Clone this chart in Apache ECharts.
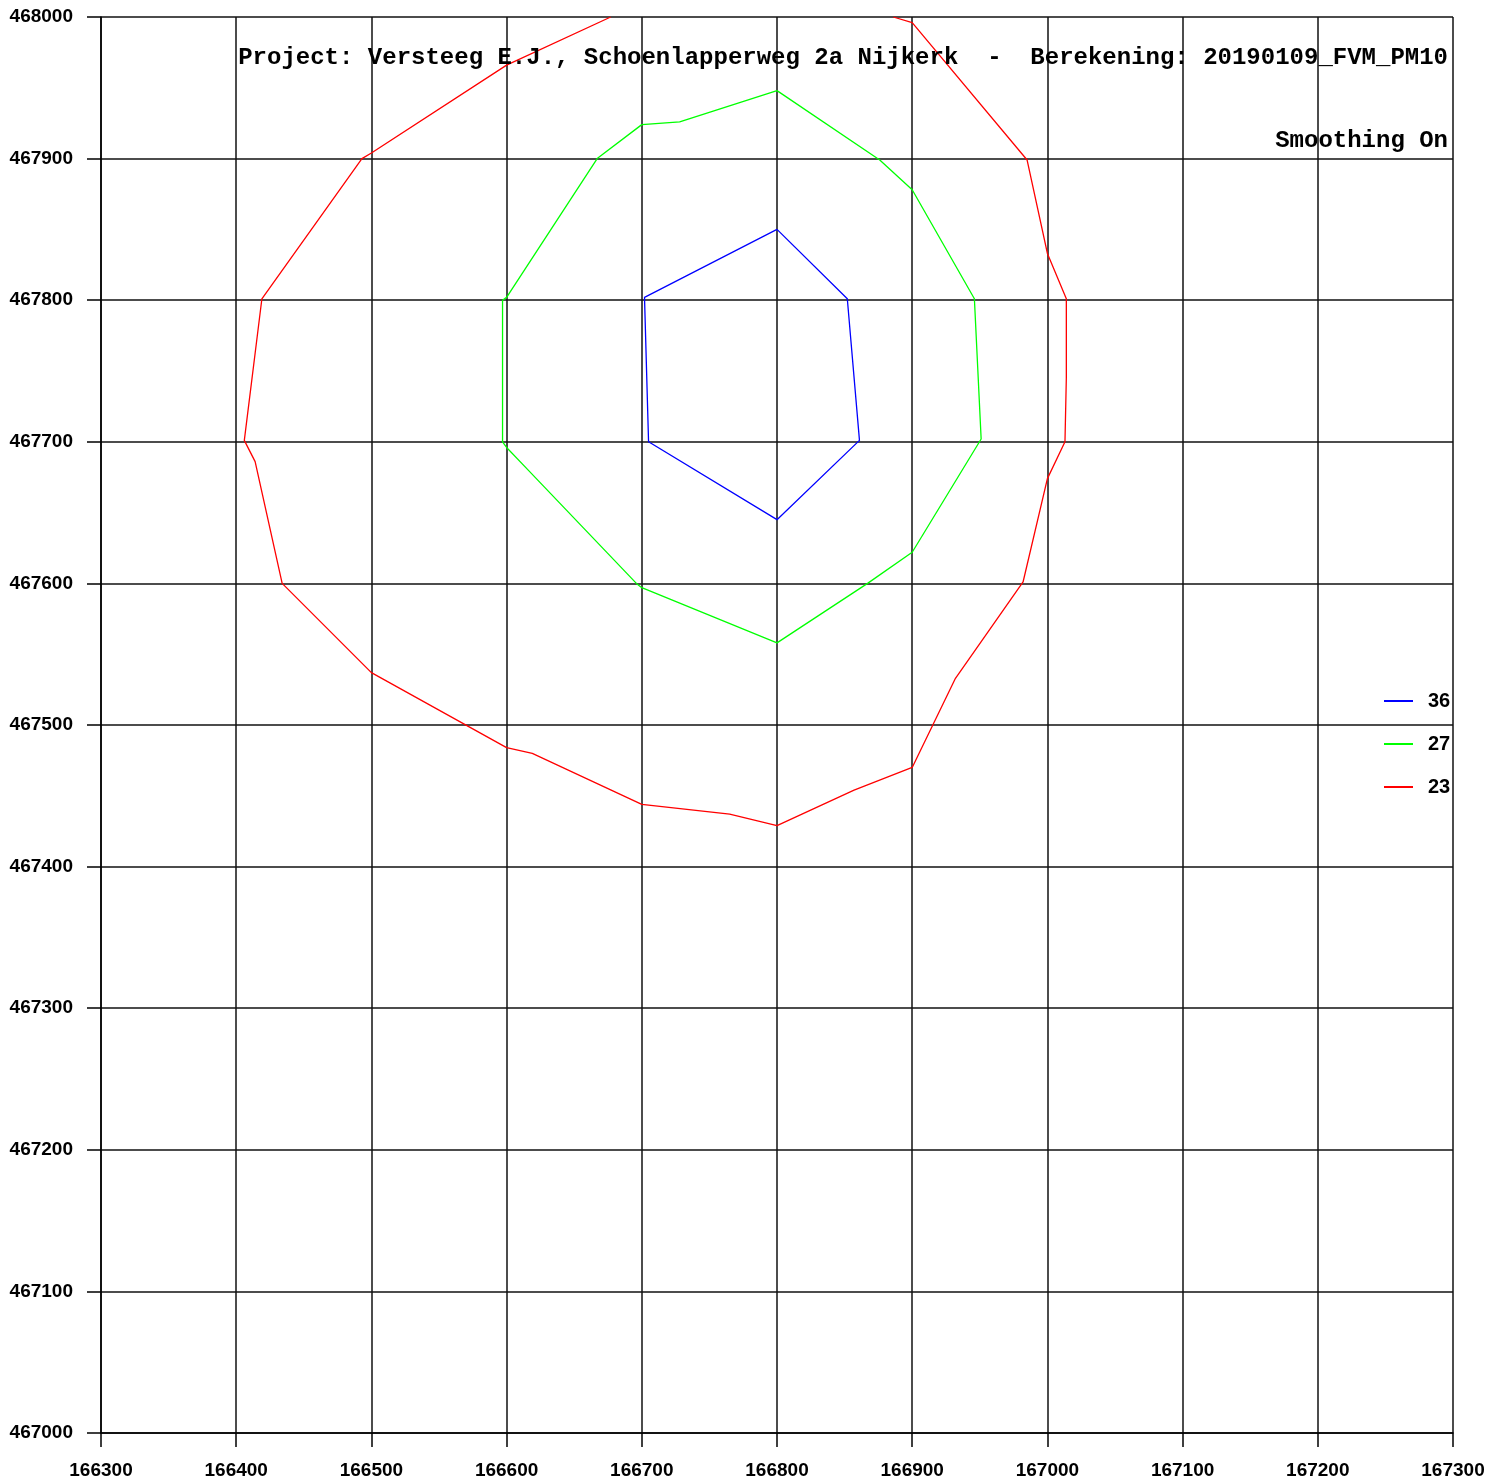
<!DOCTYPE html>
<html>
<head>
<meta charset="utf-8">
<script src="https://cdn.jsdelivr.net/npm/echarts@6/dist/echarts.min.js"></script>
<style>
html,body{margin:0;padding:0;background:#fff;}
#chart{width:1490px;height:1483px;}
</style>
</head>
<body>
<div id="chart"></div>
<script>
const titleText = 'Project: Versteeg E.J., Schoenlapperweg 2a Nijkerk  -  Berekening: 20190109_FVM_PM10';
const subText = 'Smoothing On';
const seriesNames = ['36', '27', '23'];
const seriesColors = ['#0000ff', '#00ff00', '#ff0000'];
const xMin = 166300, xMax = 167300, yMin = 467000, yMax = 468000, step = 100;

const contour36 = [
  [166800, 467850], [166852, 467801], [166861, 467701], [166800, 467645],
  [166705, 467700], [166702, 467802], [166800, 467850]
];
const contour27 = [
  [166800, 467948], [166876, 467899], [166900, 467878], [166946, 467801],
  [166951, 467702], [166900, 467622], [166867, 467600], [166800, 467558],
  [166700, 467597], [166696, 467600], [166616, 467680], [166600, 467696],
  [166597, 467700], [166597, 467800], [166600, 467802], [166667, 467900],
  [166700, 467924], [166728, 467926], [166800, 467948]
];
const contour23 = [
  [166886, 468000], [166900, 467996], [166985, 467899], [167000, 467833],
  [167014, 467801], [167014, 467745], [167013, 467700], [167000, 467674],
  [166982, 467601], [166932, 467533], [166900, 467470], [166857, 467454],
  [166800, 467429], [166765, 467437], [166700, 467444], [166619, 467480],
  [166600, 467484], [166500, 467537], [166434, 467600], [166414, 467686],
  [166406, 467701], [166419, 467801], [166493, 467900], [166500, 467904],
  [166600, 467966], [166677, 468000]
];
const contours = [contour36, contour27, contour23];

const chart = echarts.init(document.getElementById('chart'), null, {renderer: 'canvas'});
const labelFont = {fontFamily: '"Liberation Sans", Arial, sans-serif', fontWeight: 'bold', fontSize: 19, color: '#000'};
const axisCommon = {
  type: 'value',
  interval: step,
  axisLine: {show: true, lineStyle: {color: '#000', width: 1.5}},
  axisTick: {show: true, length: 14, lineStyle: {color: '#000', width: 1.5}},
  splitLine: {show: true, lineStyle: {color: '#111', width: 1.5}},
  axisLabel: Object.assign({margin: 28, formatter: v => String(v)}, labelFont)
};
chart.setOption({
  animation: false,
  backgroundColor: '#fff',
  grid: {left: 101, right: 37, top: 17, bottom: 50, containLabel: false},
  title: [
    {text: titleText, right: 37, top: 41,
     textStyle: {fontFamily: '"Liberation Mono", "Courier New", monospace', fontWeight: 'bold', fontSize: 24, color: '#000'}},
    {text: subText, right: 37, top: 124,
     textStyle: {fontFamily: '"Liberation Mono", "Courier New", monospace', fontWeight: 'bold', fontSize: 24, color: '#000'}}
  ],
  legend: {
    orient: 'vertical', left: 1379, top: 686, itemGap: 23,
    itemWidth: 29, itemHeight: 2, icon: 'rect',
    textStyle: Object.assign({}, labelFont, {fontSize: 20, padding: [0, 0, 0, 10]}),
    data: seriesNames
  },
  xAxis: Object.assign({}, axisCommon, {min: xMin, max: xMax}),
  yAxis: Object.assign({}, axisCommon, {min: yMin, max: yMax}),
  series: contours.map((d, i) => ({
    name: seriesNames[i],
    type: 'line',
    data: d,
    showSymbol: false,
    clip: true,
    color: seriesColors[i],
    lineStyle: {color: seriesColors[i], width: 1.3},
    itemStyle: {color: seriesColors[i]},
    z: 3
  }))
});
</script>
</body>
</html>
